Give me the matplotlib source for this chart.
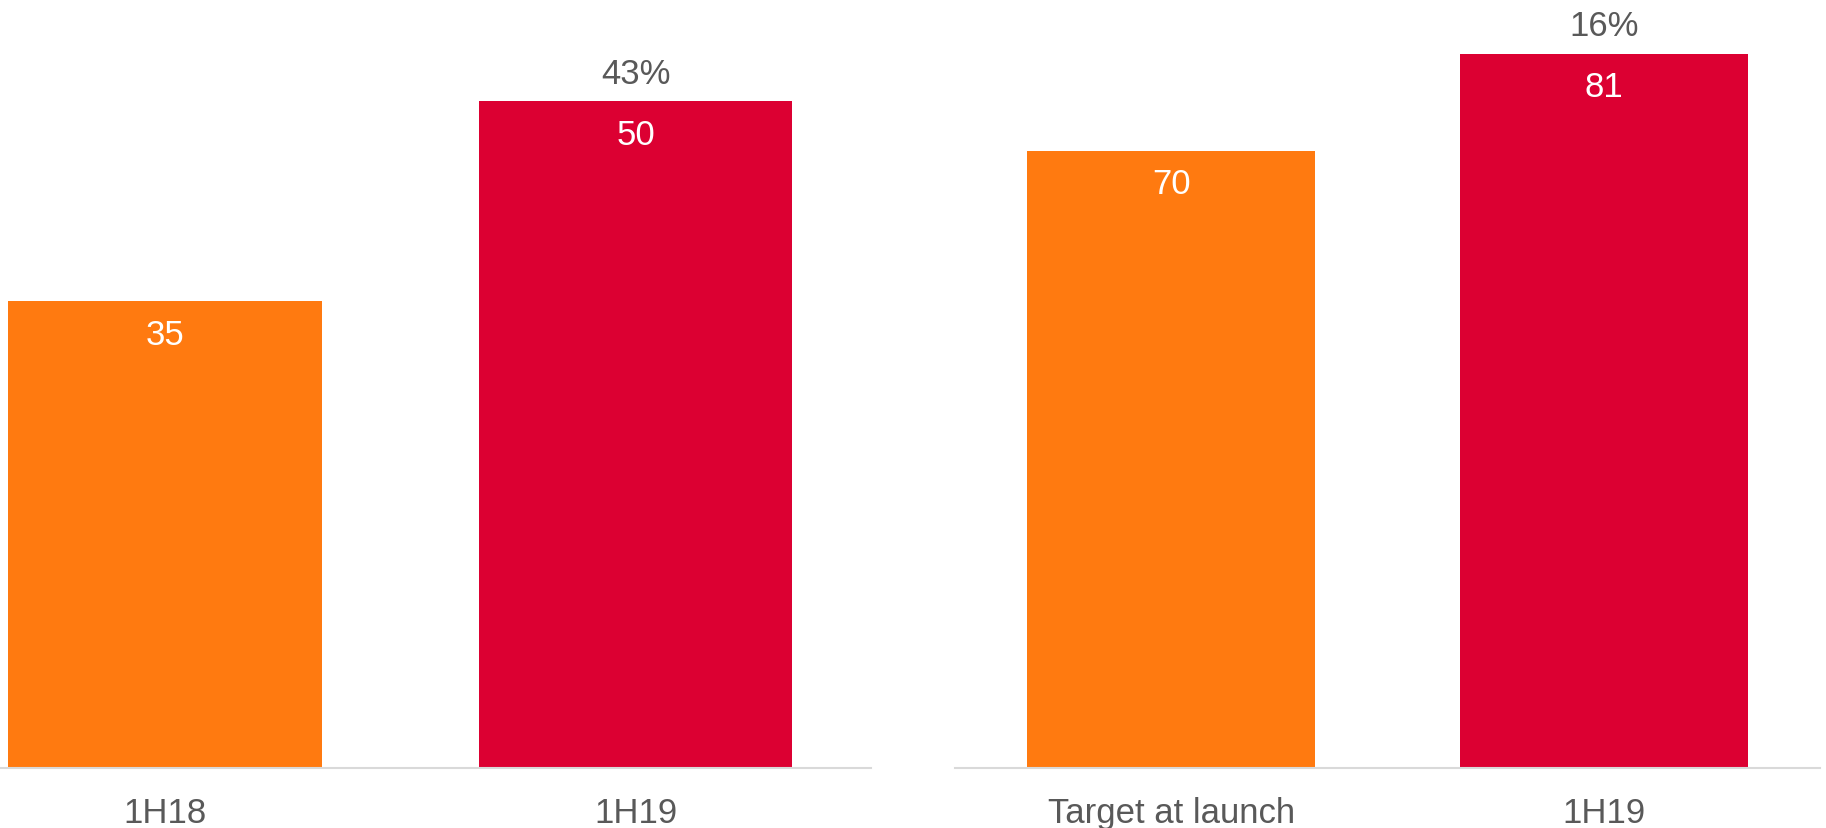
import matplotlib.pyplot as plt

# left panel: half-year values
left_labels = ["1H18", "1H19"]
left_values = [35, 50]
left_growth = "43%"

# right panel: launch target vs actual
right_labels = ["Target at launch", "1H19"]
right_values = [70, 81]
right_growth = "16%"

bar_colors = ["#FF7A10", "#DC0032"]
text_grey = "#595959"

plt.rcParams['font.family'] = ['Liberation Sans', 'DejaVu Sans']

W, H = 1826, 829
fig = plt.figure(figsize=(W / 100, H / 100), dpi=100)

base = 769  # pixel row of the baseline


def panel(x0, x1, xlim, ytop, labels, values, growth):
    ax = fig.add_axes([x0 / W, (H - base) / H, (x1 - x0) / W, base / H])
    xs = range(len(values))
    ax.bar(xs, values, width=0.666, color=bar_colors)
    ax.set_xlim(*xlim)
    ax.set_ylim(0, ytop)
    for s in ["top", "right", "left"]:
        ax.spines[s].set_visible(False)
    ax.spines["bottom"].set_color("#D9D9D9")
    ax.spines["bottom"].set_linewidth(1.5)
    ax.set_yticks([])
    ax.set_xticks(list(xs))
    ax.set_xticklabels(labels, fontsize=25, color=text_grey)
    ax.tick_params(axis="x", length=0, pad=20)
    for x, v in zip(xs, values):
        ax.annotate(str(v), (x, v), xytext=(0, -24), textcoords="offset points",
                    ha="center", va="center", color="white", fontsize=25)
    ax.annotate(growth, (1, values[1]), xytext=(0, 20), textcoords="offset points",
                ha="center", va="center", color=text_grey, fontsize=25)
    return ax


panel(0, 871, (-0.35, 1.5), 769 / 13.34, left_labels, left_values, left_growth)
panel(955, 1820, (-0.5, 1.5), 769 / 8.82, right_labels, right_values, right_growth)

fig.savefig("out.png", dpi=100)
